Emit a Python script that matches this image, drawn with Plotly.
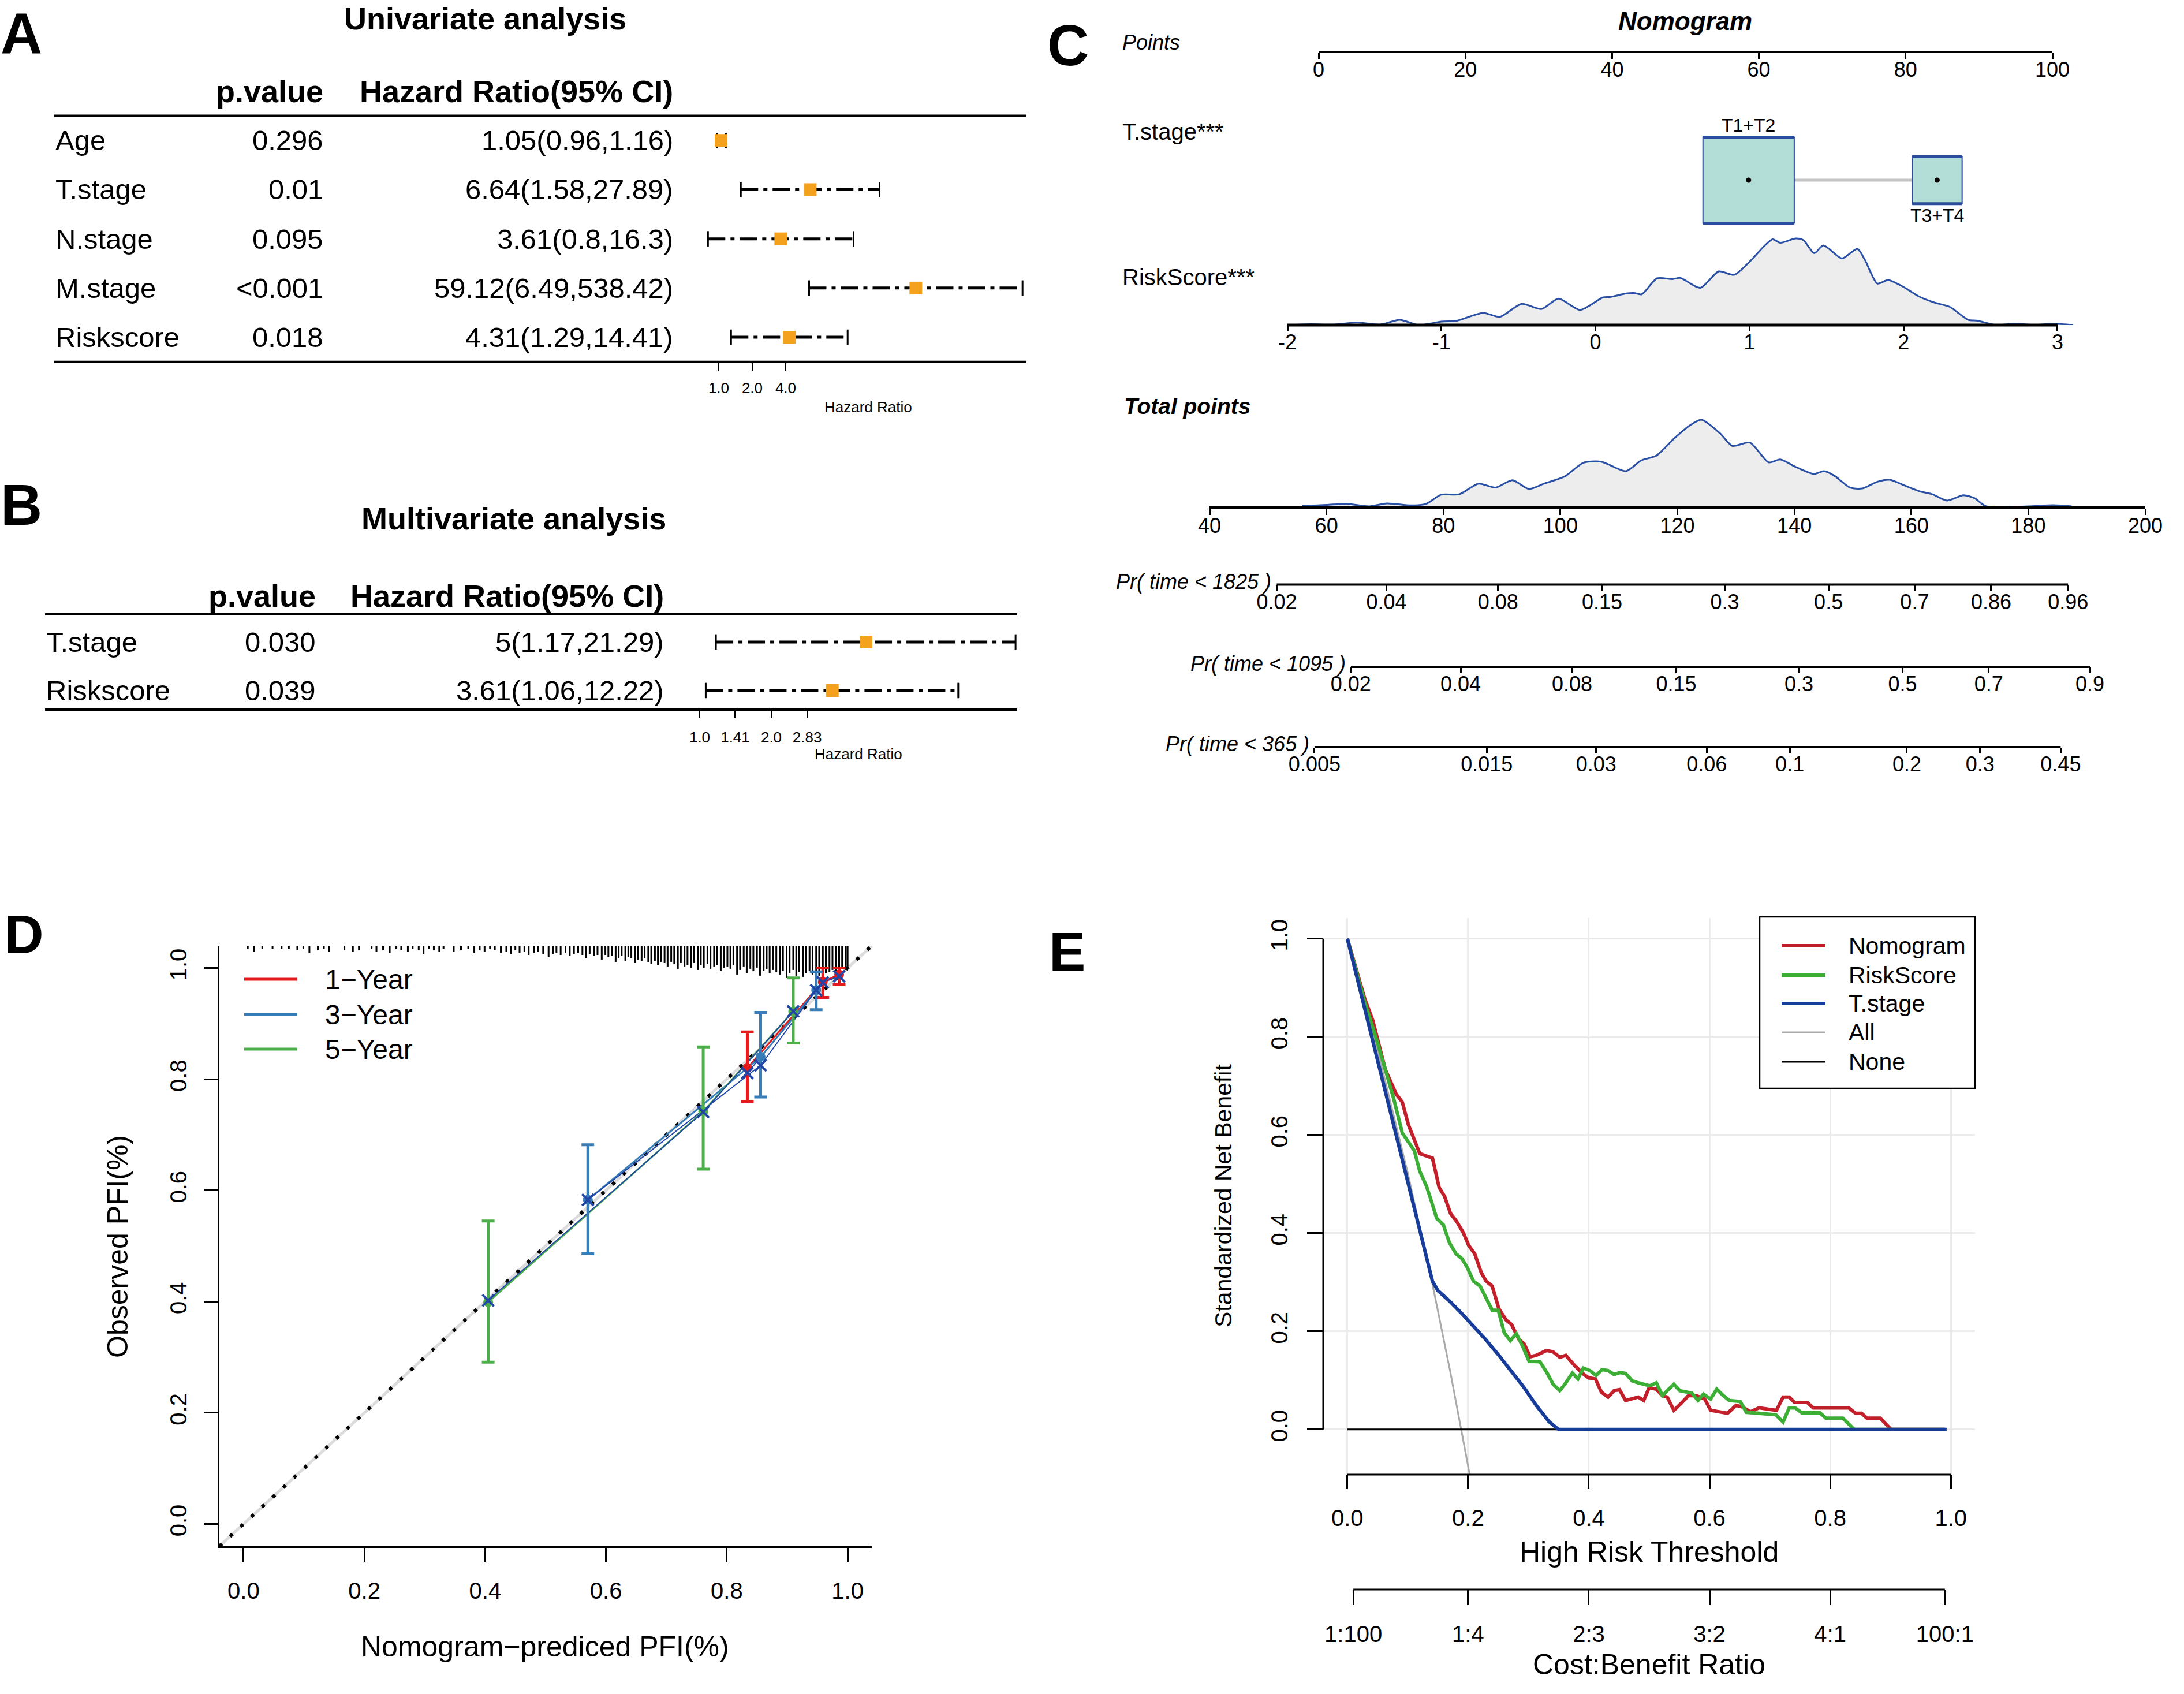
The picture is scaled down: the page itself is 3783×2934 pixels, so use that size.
import numpy as np
import plotly.graph_objects as go

W, H = 3783, 2934
FONT = "Liberation Sans, Arial, Helvetica, sans-serif"

# ======================= DATA =======================
# A: univariate Cox regression
uni_vars = ["Age", "T.stage", "N.stage", "M.stage", "Riskscore"]
uni_p = ["0.296", "0.01", "0.095", "<0.001", "0.018"]
uni_hr = [1.05, 6.64, 3.61, 59.12, 4.31]
uni_lo = [0.96, 1.58, 0.8, 6.49, 1.29]
uni_hi = [1.16, 27.89, 16.3, 538.42, 14.41]
uni_ticks = [1, 2, 4]
uni_ticklabels = ["1.0", "2.0", "4.0"]

# B: multivariate Cox regression
multi_vars = ["T.stage", "Riskscore"]
multi_p = ["0.030", "0.039"]
multi_hr = [5, 3.61]
multi_lo = [1.17, 1.06]
multi_hi = [21.29, 12.22]
multi_ticks = [1, 1.41, 2, 2.83]
multi_ticklabels = ["1.0", "1.41", "2.0", "2.83"]

# C: nomogram
points_ticks = [0, 20, 40, 60, 80, 100]
tstage_levels = ["T1+T2", "T3+T4"]
tstage_points = [58.6, 84.3]
tstage_share = [0.77, 0.23]
riskscore_ticks = [-2, -1, 0, 1, 2, 3]
rs_dens_x = [-2.0, -1.85, -1.7, -1.55, -1.4, -1.27, -1.15, -1.0, -0.9, -0.73,
             -0.62, -0.48, -0.35, -0.24, -0.1, 0.05, 0.1, 0.2, 0.25, 0.3,
             0.4, 0.5, 0.55, 0.68, 0.8, 0.9, 1.0, 1.1, 1.15, 1.2,
             1.3, 1.35, 1.42, 1.48, 1.6, 1.7, 1.75, 1.83, 1.9, 2.0,
             2.1, 2.2, 2.3, 2.42, 2.48, 2.6, 2.72, 2.85, 2.98, 3.1]
rs_dens_y = [0, 1, 0.5, 3, 0.5, 6, 0, 4, 5, 14,
             9.5, 24.5, 18.5, 30.5, 17.5, 32, 32.5, 36.5, 37, 35.5,
             54, 53, 54.5, 43, 62, 58, 73, 92, 99, 95,
             100, 98, 83, 92, 77, 88, 75, 48, 52, 44,
             33, 26, 21, 6, 5, 0, 1.5, 0.3, 1.5, 0]
total_ticks = [40, 60, 80, 100, 120, 140, 160, 180, 200]
tp_dens_x = [55.8, 60, 63.5, 67.3, 70.3, 74.4, 77, 79.6, 82.7, 86,
             88.9, 91.8, 94.6, 97.2, 100.8, 103.9, 107, 111.2, 113.8, 116.4,
             119.5, 122.1, 124.1, 127.3, 129.4, 132.4, 135.6, 137.6, 140.2, 143.3,
             145.1, 146.9, 149.5, 151.6, 154.2, 156.3, 158.9, 161.5, 163.6, 166.1,
             168.9, 170.8, 172.8, 180, 184.3, 187.4]
tp_dens_y = [0.4, 1.6, 2.9, 0, 3.4, 1.1, 2.7, 13.4, 13.9, 26.2,
             21.7, 30.2, 20.1, 26.2, 34.7, 50.3, 51.5, 40.7, 53, 58.6,
             78.7, 93.3, 100, 84.3, 69.8, 73.6, 50.8, 54.1, 45.6, 37.4,
             40.7, 35.1, 21.7, 20.6, 28.4, 30.6, 23.9, 17.2, 13.9, 6.7,
             12.8, 9.4, 0, 0, 1.3, 0]
# survival model behind the probability scales (cloglog = intercept + slope * points)
pr_slope = 0.03748
pr1825_intercept = -5.832
pr1095_intercept = -6.307
pr365_intercept = -7.468
pr1825_ticks = [0.02, 0.04, 0.08, 0.15, 0.3, 0.5, 0.7, 0.86, 0.96]
pr1095_ticks = [0.02, 0.04, 0.08, 0.15, 0.3, 0.5, 0.7, 0.9]
pr365_ticks = [0.005, 0.015, 0.03, 0.06, 0.1, 0.2, 0.3, 0.45]

# D: calibration
cal_axis_ticks = [0, 0.2, 0.4, 0.6, 0.8, 1.0]
cal1_pred = [0.834, 0.959, 0.986]
cal1_obs = [0.820, 0.975, 0.988]
cal1_lo = [0.760, 0.947, 0.970]
cal1_hi = [0.885, 1.000, 1.000]
cal1_corr = [0.811, 0.974, 0.985]
cal3_pred = [0.570, 0.856, 0.948]
cal3_obs = [0.583, 0.840, 0.960]
cal3_lo = [0.486, 0.768, 0.925]
cal3_hi = [0.682, 0.920, 0.993]
cal3_corr = [0.583, 0.825, 0.960]
cal5_pred = [0.405, 0.761, 0.910]
cal5_obs = [0.399, 0.742, 0.922]
cal5_lo = [0.291, 0.638, 0.865]
cal5_hi = [0.545, 0.858, 0.982]
cal5_corr = [0.402, 0.741, 0.922]
rug_x = [0.007, 0.017, 0.031, 0.048, 0.063, 0.075, 0.089, 0.099, 0.109, 0.123,
         0.133, 0.142, 0.167, 0.181, 0.191, 0.212, 0.220, 0.231, 0.242, 0.253,
         0.261, 0.272, 0.280, 0.290, 0.298, 0.307, 0.315, 0.324, 0.331,
         0.348, 0.360, 0.372, 0.382, 0.391, 0.399, 0.408, 0.416, 0.426, 0.435,
         0.443, 0.450, 0.457, 0.465, 0.472, 0.481, 0.488, 0.496, 0.505, 0.512,
         0.518, 0.525, 0.533, 0.540, 0.547, 0.554, 0.561, 0.567, 0.573, 0.580,
         0.586, 0.593, 0.599, 0.604, 0.610, 0.616, 0.621, 0.626, 0.632, 0.637,
         0.642, 0.648, 0.653, 0.659,
         0.664, 0.670, 0.675, 0.681, 0.686, 0.691, 0.697, 0.702, 0.708, 0.713,
         0.719, 0.724, 0.730, 0.735, 0.741, 0.746, 0.752, 0.757, 0.762, 0.768,
         0.773, 0.779, 0.784, 0.790, 0.795, 0.801, 0.806, 0.811, 0.817, 0.822,
         0.828, 0.833, 0.839, 0.844, 0.850, 0.855, 0.861, 0.866, 0.871, 0.877,
         0.882, 0.888, 0.893, 0.899, 0.904, 0.910, 0.915, 0.920, 0.926, 0.931,
         0.937, 0.942, 0.948, 0.953, 0.959, 0.964, 0.970, 0.975, 0.981, 0.986,
         0.991, 0.997, 1.000]
rug_n = [6, 10, 6, 6, 6, 6, 8, 6, 12, 8,
         6, 10, 8, 10, 8, 6, 10, 8, 12, 6,
         8, 10, 6, 8, 14, 6, 8, 10, 6,
         10, 8, 6, 12, 8, 10, 6, 8, 12, 10,
         14, 8, 12, 10, 16, 12, 10, 14, 20, 14,
         12, 16, 12, 18, 14, 12, 16, 22, 14, 18,
         16, 24, 16, 20, 18, 28, 22, 18, 26, 20,
         22, 30, 24, 26,
         22, 28, 32, 26, 34, 28, 30, 36, 28, 32,
         40, 30, 36, 34, 38, 30, 42, 34, 38, 32,
         40, 36, 34, 44, 38, 36, 40, 34, 50, 42,
         36, 48, 40, 44, 38, 52, 44, 40, 48, 42,
         46, 50, 44, 56, 48, 42, 52, 46, 54, 48,
         44, 50, 46, 52, 44, 48, 46, 42, 44, 40,
         38, 42, 36]

# E: decision curves
dca_ticks = [0, 0.2, 0.4, 0.6, 0.8, 1.0]
cost_benefit_labels = ["1:100", "1:4", "2:3", "3:2", "4:1", "100:1"]
nom_x = [0, 0.029, 0.042, 0.063, 0.081, 0.091, 0.101, 0.120, 0.141, 0.152,
         0.161, 0.171, 0.181, 0.192, 0.201, 0.211, 0.222, 0.230, 0.240, 0.251,
         0.263, 0.272, 0.284, 0.293, 0.303, 0.313, 0.330, 0.341, 0.352, 0.362,
         0.376, 0.390, 0.400, 0.411, 0.421, 0.432, 0.442, 0.451, 0.461, 0.473,
         0.482, 0.491, 0.500, 0.512, 0.522, 0.530, 0.541, 0.553, 0.565, 0.578,
         0.592, 0.602, 0.630, 0.644, 0.654, 0.668, 0.682, 0.711, 0.722, 0.732,
         0.741, 0.762, 0.772, 0.831, 0.842, 0.852, 0.861, 0.883, 0.901, 0.99]
nom_y = [1.0, 0.877, 0.834, 0.733, 0.683, 0.667, 0.621, 0.562, 0.553, 0.493,
         0.475, 0.440, 0.424, 0.401, 0.375, 0.358, 0.319, 0.302, 0.292, 0.246,
         0.223, 0.214, 0.184, 0.174, 0.148, 0.151, 0.161, 0.158, 0.147, 0.151,
         0.131, 0.114, 0.105, 0.103, 0.076, 0.066, 0.079, 0.081, 0.059, 0.062,
         0.066, 0.059, 0.085, 0.082, 0.069, 0.066, 0.039, 0.053, 0.069, 0.069,
         0.062, 0.039, 0.033, 0.049, 0.046, 0.036, 0.044, 0.039, 0.066, 0.066,
         0.055, 0.055, 0.044, 0.044, 0.033, 0.033, 0.023, 0.023, 0.0, 0.0]
rs_x = [0, 0.029, 0.049, 0.063, 0.077, 0.091, 0.101, 0.111, 0.120, 0.131,
        0.139, 0.148, 0.159, 0.169, 0.180, 0.190, 0.199, 0.209, 0.220, 0.230,
        0.240, 0.250, 0.260, 0.270, 0.280, 0.291, 0.301, 0.319, 0.331, 0.341,
        0.352, 0.362, 0.373, 0.382, 0.391, 0.402, 0.412, 0.422, 0.432, 0.442,
        0.452, 0.461, 0.472, 0.482, 0.501, 0.512, 0.522, 0.530, 0.541, 0.551,
        0.571, 0.581, 0.590, 0.602, 0.612, 0.623, 0.633, 0.651, 0.661, 0.710,
        0.722, 0.732, 0.742, 0.753, 0.783, 0.793, 0.821, 0.840, 0.99]
rs_y = [1.0, 0.870, 0.792, 0.733, 0.673, 0.604, 0.585, 0.568, 0.526, 0.496,
        0.466, 0.430, 0.417, 0.381, 0.358, 0.348, 0.329, 0.302, 0.292, 0.266,
        0.243, 0.243, 0.197, 0.181, 0.195, 0.168, 0.139, 0.138, 0.115, 0.092,
        0.079, 0.095, 0.115, 0.103, 0.125, 0.120, 0.110, 0.122, 0.120, 0.112,
        0.116, 0.114, 0.099, 0.095, 0.089, 0.095, 0.069, 0.079, 0.092, 0.079,
        0.074, 0.059, 0.072, 0.062, 0.082, 0.069, 0.059, 0.057, 0.035, 0.030,
        0.015, 0.044, 0.044, 0.034, 0.034, 0.023, 0.023, 0.0, 0.0]
ts_x = [0, 0.141, 0.150, 0.168, 0.189, 0.209, 0.230, 0.251, 0.272, 0.293, 0.313, 0.334, 0.350, 0.993]
ts_y = [1.0, 0.302, 0.283, 0.263, 0.237, 0.210, 0.182, 0.151, 0.118, 0.085, 0.049, 0.016, 0.0, 0.0]
all_x = [0, 0.05, 0.10, 0.141, 0.17, 0.19, 0.205]
all_y = [1.0, 0.774, 0.523, 0.296, 0.121, -0.007, -0.107]
none_x = [0, 0.99]
none_y = [0, 0]

# ======================= HELPERS =======================
def xd(a, b):
    return [a / W, b / W]


def yd(top, bottom):
    return [1 - bottom / H, 1 - top / H]


def PX(x):
    return x / W


def PY(y):
    return 1 - y / H


fig = go.Figure()
layout = {}
shapes = []
anns = []


def text(t, x, y, size, xanchor="center", yanchor="middle", angle=0,
         xref="paper", yref="paper", xshift=0, yshift=0, color="black"):
    anns.append(dict(text=t, x=x, y=y, xref=xref, yref=yref, showarrow=False,
                     xanchor=xanchor, yanchor=yanchor, textangle=angle,
                     xshift=xshift, yshift=yshift,
                     font=dict(family=FONT, size=size, color=color)))


def hline_px(x0, x1, y, width, color="black"):
    shapes.append(dict(type="line", xref="paper", yref="paper", x0=PX(x0), x1=PX(x1),
                       y0=PY(y), y1=PY(y), line=dict(color=color, width=width)))


def dummy(xa, ya):
    fig.add_trace(go.Scatter(x=[None], y=[None], xaxis=xa, yaxis=ya,
                             showlegend=False, hoverinfo="skip"))


def tickfont(size):
    return dict(family=FONT, size=size, color="black")


# ======================= A & B: forest plots =======================
ORANGE = "#F4A11D"


def forest(ax, names, pvals, hr, lo, hi, ticks, ticklabels, g):
    xa = "x" if ax == 1 else f"x{ax}"
    ya = "y" if ax == 1 else f"y{ax}"
    xk = "xaxis" if ax == 1 else f"xaxis{ax}"
    yk = "yaxis" if ax == 1 else f"yaxis{ax}"
    n = len(names)
    rows = list(range(n, 0, -1))
    layout[xk] = dict(domain=xd(*g["xdom"]), type="log", range=g["xrange"], anchor=ya,
                      showgrid=False, zeroline=False, showline=False,
                      ticks="outside", ticklen=14, tickwidth=2, tickcolor="black",
                      tickvals=ticks, ticktext=ticklabels, tickfont=tickfont(26),
                      ticklabelstandoff=g["standoff"])
    layout[yk] = dict(domain=yd(*g["ydom"]), range=g["yrange"], anchor=xa, visible=False)
    ytop, ybot = g["ydom"]
    hline_px(g["left"], g["right"], ytop, 4)
    hline_px(g["left"], g["right"], ybot, 4)
    shapes.append(dict(type="line", xref=xa, yref="paper", x0=0, x1=0,
                       y0=PY(ytop), y1=PY(ybot), line=dict(color="#BEBEBE", width=2),
                       layer="below"))
    for r, l, h in zip(rows, lo, hi):
        fig.add_trace(go.Scatter(x=[l, h], y=[r, r], mode="lines", xaxis=xa, yaxis=ya,
                                 line=dict(color="black", width=5, dash="30px,9px,7px,9px"),
                                 showlegend=False, hoverinfo="skip"))
    fig.add_trace(go.Scatter(x=list(lo) + list(hi), y=rows + rows, mode="markers",
                             xaxis=xa, yaxis=ya, showlegend=False, hoverinfo="skip",
                             marker=dict(symbol="line-ns", size=19,
                                         line=dict(color="black", width=3))))
    fig.add_trace(go.Scatter(x=hr, y=rows, mode="markers", xaxis=xa, yaxis=ya,
                             showlegend=False, hoverinfo="skip",
                             marker=dict(symbol="square", size=22, color=ORANGE,
                                         line=dict(width=0))))
    for r, nm, p, h, l, u in zip(rows, names, pvals, hr, lo, hi):
        text(nm, PX(g["left"]), r, 49, xanchor="left", yref=ya)
        text(p, PX(g["pright"]), r, 49, xanchor="right", yref=ya)
        text(f"{h:g}({l:g},{u:g})", PX(g["hrright"]), r, 49, xanchor="right", yref=ya)
    text("<b>p.value</b>", PX(g["pright"]), PY(g["header"]), 54, xanchor="right")
    text("<b>Hazard Ratio(95% CI)</b>", PX(g["hrright"]), PY(g["header"]), 54, xanchor="right")
    tx, ty, tanchor = g["title_xy"]
    text(f"<b>{g['title']}</b>", PX(tx), PY(ty), 54, yanchor=tanchor)
    text("Hazard Ratio", PX(g["hrlab"][0]), PY(g["hrlab"][1]), 26)
    lx, ly, lanchor = g["letter_xy"]
    text(f"<b>{g['letter']}</b>", PX(lx), PY(ly), 100, yanchor=lanchor)


forest(1, uni_vars, uni_p, uni_hr, uni_lo, uni_hi, uni_ticks, uni_ticklabels,
       dict(xdom=(1200, 1790), xrange=[-0.2335, 2.8288], ydom=(200.6, 626.7),
            yrange=[0.5, 5.5], left=94, right=1777, pright=562, hrright=1168,
            header=158, title="Univariate analysis", title_xy=(840, 0, "top"),
            hrlab=(1504, 705), letter="A", letter_xy=(37, 0, "top"), standoff=8))
forest(2, multi_vars, multi_p, multi_hr, multi_lo, multi_hi, multi_ticks, multi_ticklabels,
       dict(xdom=(1190, 1775), xrange=[-0.0534, 1.3667], ydom=(1064, 1229),
            yrange=[0.607, 2.571], left=78, right=1762, pright=549, hrright=1152,
            header=1032, title="Multivariate analysis", title_xy=(890, 898, "middle"),
            hrlab=(1487, 1306), letter="B", letter_xy=(37, 874, "middle"), standoff=11))

# ======================= C: nomogram =======================
NOMO_BLUE = "#2A50A6"
C_STANDOFF = -12
text("<b>C</b>", PX(1850), PY(78), 100)
text("<b><i>Nomogram</i></b>", PX(2919), PY(36), 44)

# Points scale
layout["xaxis3"] = dict(domain=xd(2284, 3555), range=[0, 100], anchor="y3",
                        showline=True, linewidth=4, linecolor="black",
                        ticks="outside", ticklen=10, tickwidth=3, tickcolor="black",
                        tickvals=points_ticks, ticktext=[f"{v:g}" for v in points_ticks],
                        tickfont=tickfont(36), showgrid=False, zeroline=False,
                        ticklabelstandoff=C_STANDOFF)
layout["yaxis3"] = dict(domain=yd(50, 88), range=[0, 1], anchor="x3", visible=False)
dummy("x3", "y3")
text("<i>Points</i>", PX(1942), PY(74), 36, xanchor="left")

# T.stage boxes
layout["xaxis4"] = dict(domain=xd(2284, 3555), range=[0, 100], anchor="y4", visible=False)
layout["yaxis4"] = dict(domain=yd(212, 412), range=[-1, 1], anchor="x4", visible=False)
half_w = [7.09 * np.sqrt(s) for s in tstage_share]
half_h = [0.849 * np.sqrt(s) for s in tstage_share]
shapes.append(dict(type="line", xref="x4", yref="y4", layer="below",
                   x0=tstage_points[0] + half_w[0], x1=tstage_points[1] - half_w[1],
                   y0=0, y1=0, line=dict(color="#C4C4C4", width=5)))
for c, hw, hh in zip(tstage_points, half_w, half_h):
    shapes.append(dict(type="rect", xref="x4", yref="y4", x0=c - hw, x1=c + hw,
                       y0=-hh, y1=hh, fillcolor="#B3DDD7", layer="below",
                       line=dict(color="#2B4C9E", width=2)))
    for yy in (-hh, hh):
        shapes.append(dict(type="line", xref="x4", yref="y4", x0=c - hw, x1=c + hw,
                           y0=yy, y1=yy, line=dict(color="#2B4C9E", width=5)))
fig.add_trace(go.Scatter(x=tstage_points, y=[0, 0], mode="markers", xaxis="x4", yaxis="y4",
                         marker=dict(color="black", size=9), showlegend=False,
                         hoverinfo="skip", cliponaxis=False))
text(tstage_levels[0], tstage_points[0], half_h[0], 32, yanchor="bottom", xref="x4", yref="y4")
text(tstage_levels[1], tstage_points[1], -half_h[1], 32, yanchor="top", xref="x4", yref="y4")
text("T.stage***", PX(1942), PY(228), 40, xanchor="left")

# RiskScore density
layout["xaxis5"] = dict(domain=xd(2230, 3600), range=[-2, 3.135], anchor="y5",
                        showline=False, ticks="outside", ticklen=10, tickwidth=3,
                        tickcolor="black", tickvals=riskscore_ticks,
                        ticktext=[f"{v:g}" for v in riskscore_ticks],
                        tickfont=tickfont(36), showgrid=False, zeroline=False,
                        ticklabelstandoff=C_STANDOFF)
layout["yaxis5"] = dict(domain=yd(395, 563), range=[0, 112], anchor="x5", visible=False)
fig.add_trace(go.Scatter(x=rs_dens_x, y=rs_dens_y, mode="lines", xaxis="x5", yaxis="y5",
                         fill="tozeroy", fillcolor="#EDEDED",
                         line=dict(color=NOMO_BLUE, width=3, shape="spline", smoothing=0.7),
                         showlegend=False, hoverinfo="skip"))
shapes.append(dict(type="line", xref="x5", yref="paper", x0=min(riskscore_ticks),
                   x1=max(riskscore_ticks), y0=PY(563), y1=PY(563),
                   line=dict(color="black", width=5)))
text("RiskScore***", PX(1942), PY(480), 40, xanchor="left")

# Total points density
layout["xaxis6"] = dict(domain=xd(2095, 3716), range=[40, 200], anchor="y6",
                        showline=True, linewidth=5, linecolor="black",
                        ticks="outside", ticklen=10, tickwidth=3, tickcolor="black",
                        tickvals=total_ticks, ticktext=[f"{v:g}" for v in total_ticks],
                        tickfont=tickfont(36), showgrid=False, zeroline=False,
                        ticklabelstandoff=C_STANDOFF)
layout["yaxis6"] = dict(domain=yd(700, 877), range=[0, 118], anchor="x6", visible=False)
fig.add_trace(go.Scatter(x=tp_dens_x, y=tp_dens_y, mode="lines", xaxis="x6", yaxis="y6",
                         fill="tozeroy", fillcolor="#EDEDED",
                         line=dict(color=NOMO_BLUE, width=3, shape="spline", smoothing=0.7),
                         showlegend=False, hoverinfo="skip"))
text("<b><i>Total points</i></b>", PX(1945), PY(704), 39, xanchor="left")

# Probability scales
pr_rows = [("Pr( time < 1825 )", pr1825_intercept, pr1825_ticks, 1012.5),
           ("Pr( time < 1095 )", pr1095_intercept, pr1095_ticks, 1155),
           ("Pr( time < 365 )", pr365_intercept, pr365_ticks, 1294)]
for k, (lab, a, ticks, liney) in enumerate(pr_rows):
    i = 7 + k
    tpv = [(np.log(-np.log(1 - p)) - a) / pr_slope for p in ticks]
    layout[f"xaxis{i}"] = dict(domain=xd(2095, 3716), range=[40, 200], anchor=f"y{i}",
                               showline=False, ticks="outside", ticklen=10, tickwidth=3,
                               tickcolor="black", tickvals=tpv,
                               ticktext=[f"{p:g}" for p in ticks], tickfont=tickfont(36),
                               showgrid=False, zeroline=False, ticklabelstandoff=C_STANDOFF)
    layout[f"yaxis{i}"] = dict(domain=yd(liney - 20, liney), range=[0, 1], anchor=f"x{i}",
                               visible=False)
    dummy(f"x{i}", f"y{i}")
    shapes.append(dict(type="line", xref=f"x{i}", yref="paper", x0=tpv[0], x1=tpv[-1],
                       y0=PY(liney), y1=PY(liney), line=dict(color="black", width=4)))
    text(f"<i>{lab}</i>", tpv[0], PY(liney - 5), 36, xanchor="right", xref=f"x{i}",
         xshift=-7)

# ======================= D: calibration =======================
text("<b>D</b>", PX(41), PY(1618), 95)
cal_ticktext = [f"{v:.1f}" for v in cal_axis_ticks]
layout["xaxis10"] = dict(domain=xd(380, 1510), range=[-0.04, 1.04], anchor="y10",
                         showline=True, linewidth=3, linecolor="black",
                         ticks="outside", ticklen=24, tickwidth=3, tickcolor="black",
                         tickvals=cal_axis_ticks, ticktext=cal_ticktext, tickfont=tickfont(40),
                         showgrid=False, zeroline=False, ticklabelstandoff=16)
layout["yaxis10"] = dict(domain=yd(1638, 2678), range=[-0.04, 1.04], anchor="x10",
                         showline=True, linewidth=3, linecolor="black",
                         ticks="outside", ticklen=24, tickwidth=3, tickcolor="black",
                         tickvals=cal_axis_ticks, ticktext=cal_ticktext, tickfont=tickfont(40),
                         tickangle=-90, showgrid=False, zeroline=False, ticklabelstandoff=14)
diag = [-0.04, 1.04]
fig.add_trace(go.Scatter(x=diag, y=diag, mode="lines", xaxis="x10", yaxis="y10",
                         line=dict(color="#DCDCDC", width=5), showlegend=False, hoverinfo="skip"))
fig.add_trace(go.Scatter(x=diag, y=diag, mode="lines", xaxis="x10", yaxis="y10",
                         line=dict(color="black", width=6, dash="6px,19px"),
                         showlegend=False, hoverinfo="skip"))
rug_scale = 1 / 965.0
rx, ry = [], []
for x, n in zip(rug_x, rug_n):
    rx += [x, x, None]
    ry += [1.04, 1.04 - n * rug_scale, None]
fig.add_trace(go.Scatter(x=rx, y=ry, mode="lines", xaxis="x10", yaxis="y10",
                         line=dict(color="black", width=3), showlegend=False, hoverinfo="skip"))

CORR_BLUE = "#2146A6"
cal_series = [("1\u2212Year", "#E41A1C", cal1_pred, cal1_obs, cal1_lo, cal1_hi, cal1_corr),
              ("3\u2212Year", "#377EB8", cal3_pred, cal3_obs, cal3_lo, cal3_hi, cal3_corr),
              ("5\u2212Year", "#4DAF4A", cal5_pred, cal5_obs, cal5_lo, cal5_hi, cal5_corr)]
for name, col, pr, ob, lo, hi, co in cal_series:
    fig.add_trace(go.Scatter(x=pr, y=ob, mode="lines", xaxis="x10", yaxis="y10",
                             line=dict(color=col, width=3), showlegend=False, hoverinfo="skip"))
    fig.add_trace(go.Scatter(x=pr, y=co, mode="lines", xaxis="x10", yaxis="y10",
                             line=dict(color=CORR_BLUE, width=2), showlegend=False,
                             hoverinfo="skip"))
for name, col, pr, ob, lo, hi, co in cal_series:
    fig.add_trace(go.Scatter(
        x=pr, y=ob, mode="markers", xaxis="x10", yaxis="y10",
        marker=dict(color=col, size=17),
        error_y=dict(type="data", symmetric=False,
                     array=[h - o for h, o in zip(hi, ob)],
                     arrayminus=[o - l for o, l in zip(ob, lo)],
                     color=col, thickness=5, width=11),
        showlegend=False, hoverinfo="skip"))
for name, col, pr, ob, lo, hi, co in cal_series:
    fig.add_trace(go.Scatter(x=pr, y=co, mode="markers", xaxis="x10", yaxis="y10",
                             marker=dict(symbol="x-thin", size=20,
                                         line=dict(color=CORR_BLUE, width=4)),
                             showlegend=False, hoverinfo="skip"))
for (name, col, *_), ly in zip(cal_series, [1696, 1757, 1817]):
    hline_px(423, 515, ly, 5, col)
    text(name, PX(561), PY(ly), 48, xanchor="left")
text("Nomogram\u2212prediced PFI(%)", PX(944), PY(2852), 50)
text("Observed PFI(%)", PX(204), PY(2159), 50, angle=-90)

# ======================= E: decision curve =======================
text("<b>E</b>", PX(1848), PY(1648), 95)
dca_ticktext = [f"{v:.1f}" for v in dca_ticks]
layout["xaxis11"] = dict(domain=xd(2292, 3421), range=[-0.04, 1.04], anchor="y11",
                         showline=False, showgrid=True, gridcolor="#EBEBEB", gridwidth=3,
                         ticks="outside", ticklen=24, tickwidth=3, tickcolor="black",
                         tickvals=dca_ticks, ticktext=dca_ticktext, tickfont=tickfont(40),
                         zeroline=False, ticklabelstandoff=16)
layout["yaxis11"] = dict(domain=yd(1590, 2554), range=[-0.092, 1.042], anchor="x11",
                         showline=False, showgrid=True, gridcolor="#EBEBEB", gridwidth=3,
                         ticks="outside", ticklen=27, tickwidth=3, tickcolor="black",
                         tickvals=dca_ticks, ticktext=dca_ticktext, tickfont=tickfont(40),
                         tickangle=-90, zeroline=False, ticklabelstandoff=18)
cb_thr = []
for lab in cost_benefit_labels:
    c, b = (float(s) for s in lab.split(":"))
    cb_thr.append(c / (c + b))
layout["xaxis12"] = dict(overlaying="x11", anchor="free", position=PY(2753),
                         range=[-0.04, 1.04], side="bottom", showline=False, showgrid=False,
                         zeroline=False, ticks="outside", ticklen=26, tickwidth=3,
                         tickcolor="black", tickvals=cb_thr, ticktext=cost_benefit_labels,
                         tickfont=tickfont(40), ticklabelstandoff=16)
fig.add_trace(go.Scatter(x=[None], y=[None], xaxis="x12", yaxis="y11",
                         showlegend=False, hoverinfo="skip"))
shapes.append(dict(type="line", xref="paper", yref="y11", x0=PX(2292), x1=PX(2292),
                   y0=min(dca_ticks), y1=max(dca_ticks), line=dict(color="black", width=3)))
shapes.append(dict(type="line", xref="x11", yref="paper", x0=min(dca_ticks), x1=max(dca_ticks),
                   y0=PY(2554), y1=PY(2554), line=dict(color="black", width=3)))
shapes.append(dict(type="line", xref="x11", yref="paper", x0=cb_thr[0], x1=cb_thr[-1],
                   y0=PY(2753), y1=PY(2753), line=dict(color="black", width=3)))

dca_series = [("Nomogram", "#C21F2A", 6, nom_x, nom_y),
              ("RiskScore", "#3DAE35", 6, rs_x, rs_y),
              ("T.stage", "#173C99", 6, ts_x, ts_y),
              ("All", "#AAAAAA", 3, all_x, all_y),
              ("None", "black", 3, none_x, none_y)]
for name, col, w, xs, ys in [dca_series[3], dca_series[4], dca_series[0], dca_series[1], dca_series[2]]:
    fig.add_trace(go.Scatter(x=xs, y=ys, mode="lines", xaxis="x11", yaxis="y11",
                             line=dict(color=col, width=w), showlegend=False, hoverinfo="skip"))
shapes.append(dict(type="rect", xref="paper", yref="paper", x0=PX(3048), x1=PX(3421),
                   y0=PY(1885), y1=PY(1588), line=dict(color="black", width=2.5),
                   fillcolor="white"))
for (name, col, w, *_), ly in zip(dca_series, [1638, 1689, 1738, 1788, 1839]):
    hline_px(3086, 3162, ly, w, col)
    text(name, PX(3200), PY(ly), 41, xanchor="left")
text("High Risk Threshold", PX(2856), PY(2688), 50)
text("Cost:Benefit Ratio", PX(2856), PY(2883), 50)
text("Standardized Net Benefit", PX(2119), PY(2071), 41, angle=-90)

fig.update_layout(width=W, height=H,
                  margin=dict(l=0, r=0, t=0, b=0, pad=0, autoexpand=False),
                  paper_bgcolor="white", plot_bgcolor="rgba(0,0,0,0)",
                  showlegend=False, font=dict(family=FONT, color="black"),
                  shapes=shapes, annotations=anns, **layout)
fig.write_html("out.html")
